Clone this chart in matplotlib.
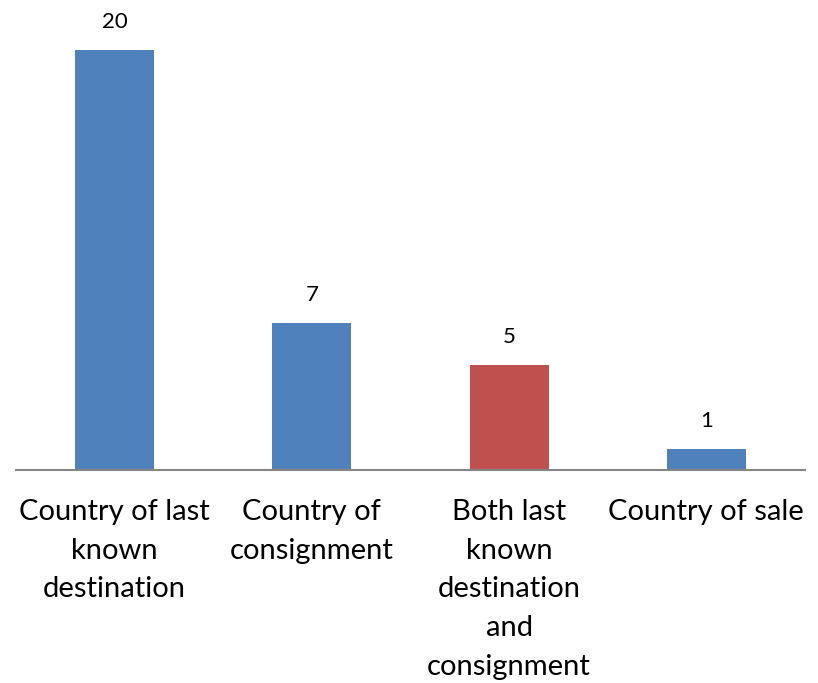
import matplotlib.pyplot as plt

categories = [
    "Country of last\nknown\ndestination",
    "Country of\nconsignment",
    "Both last\nknown\ndestination\nand\nconsignment",
    "Country of sale",
]
values = [20, 7, 5, 1]
colors = ["#4F81BD", "#4F81BD", "#C0504D", "#4F81BD"]

plt.rcParams["font.family"] = ["Lato", "DejaVu Sans"]

fig = plt.figure(figsize=(8.18, 6.83), dpi=100)
# axes placed so the baseline sits ~470px from the top
ax = fig.add_axes([16 / 818, 1 - 470 / 683, 789 / 818, 462 / 683])

x = range(len(categories))
bars = ax.bar(x, values, width=0.4, color=colors)

for b, v in zip(bars, values):
    ax.annotate(str(v), (b.get_x() + b.get_width() / 2, v),
                xytext=(0, 13), textcoords="offset points",
                ha="center", va="bottom", fontsize=16, color="black")

ax.set_xlim(-0.5, len(categories) - 0.5)
ax.set_ylim(0, 22)
ax.set_xticks(list(x))
ax.set_xticklabels(categories, fontsize=21, linespacing=1.6, ha="center", va="top")
ax.tick_params(axis="x", length=0, pad=21)
ax.set_yticks([])

for s in ["top", "right", "left"]:
    ax.spines[s].set_visible(False)
ax.spines["bottom"].set_color("#868686")
ax.spines["bottom"].set_linewidth(1.5)

fig.savefig("out.png", dpi=100)
